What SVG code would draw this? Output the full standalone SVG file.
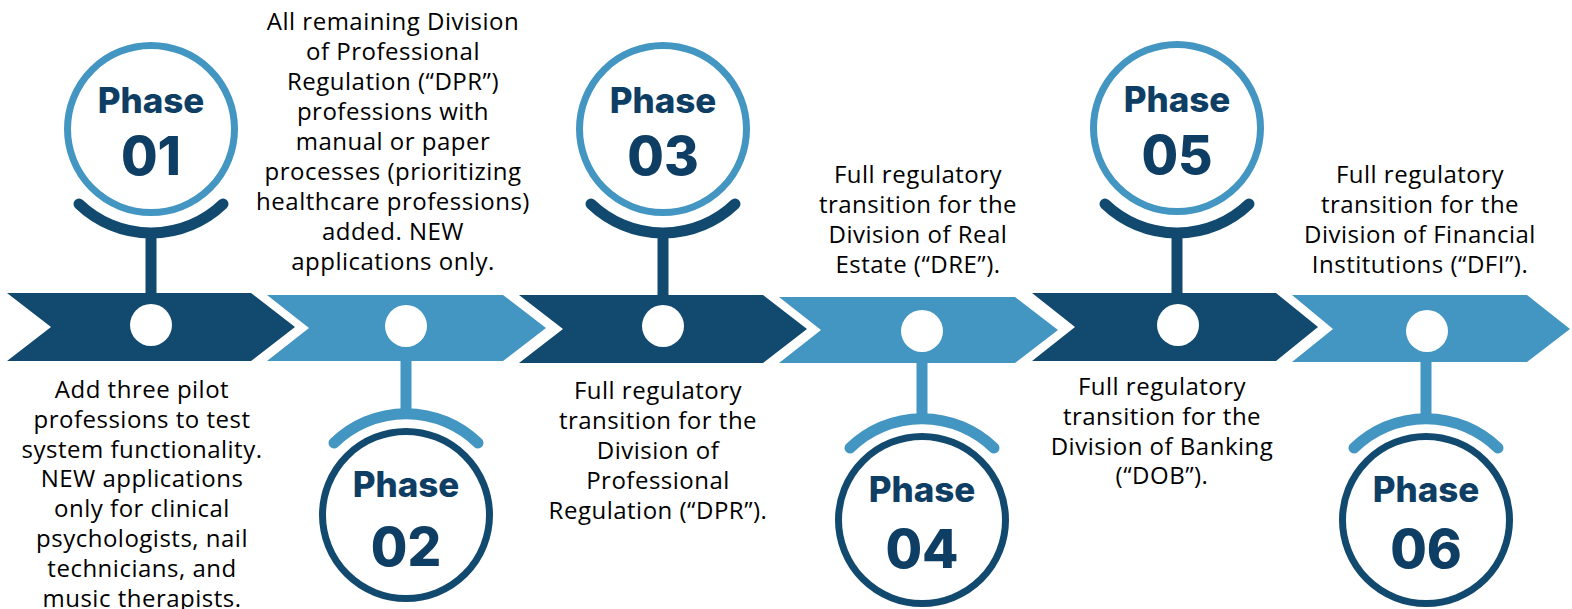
<svg xmlns="http://www.w3.org/2000/svg" width="1572" height="609" viewBox="0 0 1572 609">
<style>
.dark{fill:#124a6f}
.light{fill:#4395c2}
.dot{fill:#ffffff}
.ringL{fill:#ffffff;stroke:#4395c2;stroke-width:7}
.ringD{fill:#ffffff;stroke:#124a6f;stroke-width:7}
.arcD{fill:none;stroke:#124a6f;stroke-width:11;stroke-linecap:round}
.arcL{fill:none;stroke:#4395c2;stroke-width:11;stroke-linecap:round}
.stemD{stroke:#124a6f;stroke-width:11}
.stemL{stroke:#4395c2;stroke-width:11}
.ph{font-family:Inter,"Liberation Sans",sans-serif;font-weight:800;fill:#0f3e64;text-anchor:middle}
.ph1{font-size:35px}
.ph2{font-size:53px}
.desc{font-family:"Open Sans","Noto Sans","Liberation Sans",sans-serif;font-size:24px;letter-spacing:0.5px;fill:#000;text-anchor:middle}
</style>
<rect width="1572" height="609" fill="#ffffff"/>
<g id="timeline">
<polygon class="dark" points="7,293 251,293 295,327 251,361 7,361 51,327"/>
<polygon class="light" points="267,295 503,295 546,328 503,361 267,361 309,328"/>
<polygon class="dark" points="519,295 763,295 807,329 763,363 519,363 563,329"/>
<polygon class="light" points="779,297 1015,297 1058,330 1015,363 779,363 821,330"/>
<polygon class="dark" points="1032,293 1276,293 1318,327 1276,361 1032,361 1075,327"/>
<polygon class="light" points="1292,295 1527,295 1570,329 1527,362 1292,362 1333,329"/>
</g>
<g id="connectors">
<line class="stemD" x1="151" y1="233" x2="151" y2="300"/>
<path class="arcD" d="M79,204 A104,104 0 0 0 223,204"/>
<line class="stemL" x1="406" y1="355" x2="406" y2="414"/>
<path class="arcL" d="M334,443 A103,103 0 0 1 478,443"/>
<line class="stemD" x1="663" y1="233" x2="663" y2="300"/>
<path class="arcD" d="M591,204 A104,104 0 0 0 735,204"/>
<line class="stemL" x1="922" y1="355" x2="922" y2="421"/>
<path class="arcL" d="M850,448 A103,103 0 0 1 994,448"/>
<line class="stemD" x1="1177" y1="233" x2="1177" y2="300"/>
<path class="arcD" d="M1105,204 A104,104 0 0 0 1249,204"/>
<line class="stemL" x1="1426" y1="355" x2="1426" y2="421"/>
<path class="arcL" d="M1354,448 A103,103 0 0 1 1498,448"/>
</g>
<g id="phase1">
<circle class="dot" cx="151" cy="325" r="21"/>
<circle class="ringL" cx="151" cy="129" r="83.5"/>
<text class="ph ph1" x="151" y="113">Phase</text>
<text class="ph ph2" x="151" y="175">01</text>
<text class="desc"><tspan x="142" y="398">Add three pilot</tspan><tspan x="142" y="428">professions to test</tspan><tspan x="142" y="458">system functionality.</tspan><tspan x="142" y="487">NEW applications</tspan><tspan x="142" y="517">only for clinical</tspan><tspan x="142" y="547">psychologists, nail</tspan><tspan x="142" y="577">technicians, and</tspan><tspan x="142" y="607">music therapists.</tspan></text>
</g>
<g id="phase2">
<circle class="dot" cx="406" cy="326" r="21"/>
<circle class="ringD" cx="406" cy="515" r="83.5"/>
<text class="ph ph1" x="406" y="497">Phase</text>
<text class="ph ph2" x="406" y="566">02</text>
<text class="desc"><tspan x="393" y="30">All remaining Division</tspan><tspan x="393" y="60">of Professional</tspan><tspan x="393" y="90">Regulation (“DPR”)</tspan><tspan x="393" y="120">professions with</tspan><tspan x="393" y="150">manual or paper</tspan><tspan x="393" y="180">processes (prioritizing</tspan><tspan x="393" y="210">healthcare professions)</tspan><tspan x="393" y="240">added. NEW</tspan><tspan x="393" y="270">applications only.</tspan></text>
</g>
<g id="phase3">
<circle class="dot" cx="663" cy="326" r="21"/>
<circle class="ringL" cx="663" cy="129" r="83.5"/>
<text class="ph ph1" x="663" y="113">Phase</text>
<text class="ph ph2" x="663" y="175">03</text>
<text class="desc"><tspan x="658" y="399">Full regulatory</tspan><tspan x="658" y="429">transition for the</tspan><tspan x="658" y="459">Division of</tspan><tspan x="658" y="489">Professional</tspan><tspan x="658" y="519">Regulation (“DPR”).</tspan></text>
</g>
<g id="phase4">
<circle class="dot" cx="922" cy="331" r="21"/>
<circle class="ringD" cx="922" cy="520" r="83.5"/>
<text class="ph ph1" x="922" y="502">Phase</text>
<text class="ph ph2" x="922" y="568">04</text>
<text class="desc"><tspan x="918" y="183">Full regulatory</tspan><tspan x="918" y="213">transition for the</tspan><tspan x="918" y="243">Division of Real</tspan><tspan x="918" y="273">Estate (“DRE”).</tspan></text>
</g>
<g id="phase5">
<circle class="dot" cx="1178" cy="325" r="21"/>
<circle class="ringL" cx="1177" cy="128" r="83.5"/>
<text class="ph ph1" x="1177" y="112">Phase</text>
<text class="ph ph2" x="1177" y="174">05</text>
<text class="desc"><tspan x="1162" y="395">Full regulatory</tspan><tspan x="1162" y="425">transition for the</tspan><tspan x="1162" y="455">Division of Banking</tspan><tspan x="1162" y="484">(“DOB”).</tspan></text>
</g>
<g id="phase6">
<circle class="dot" cx="1427" cy="331" r="21"/>
<circle class="ringD" cx="1426" cy="520" r="83.5"/>
<text class="ph ph1" x="1426" y="502">Phase</text>
<text class="ph ph2" x="1426" y="568">06</text>
<text class="desc"><tspan x="1420" y="183">Full regulatory</tspan><tspan x="1420" y="213">transition for the</tspan><tspan x="1420" y="243">Division of Financial</tspan><tspan x="1420" y="273">Institutions (“DFI”).</tspan></text>
</g>
</svg>
